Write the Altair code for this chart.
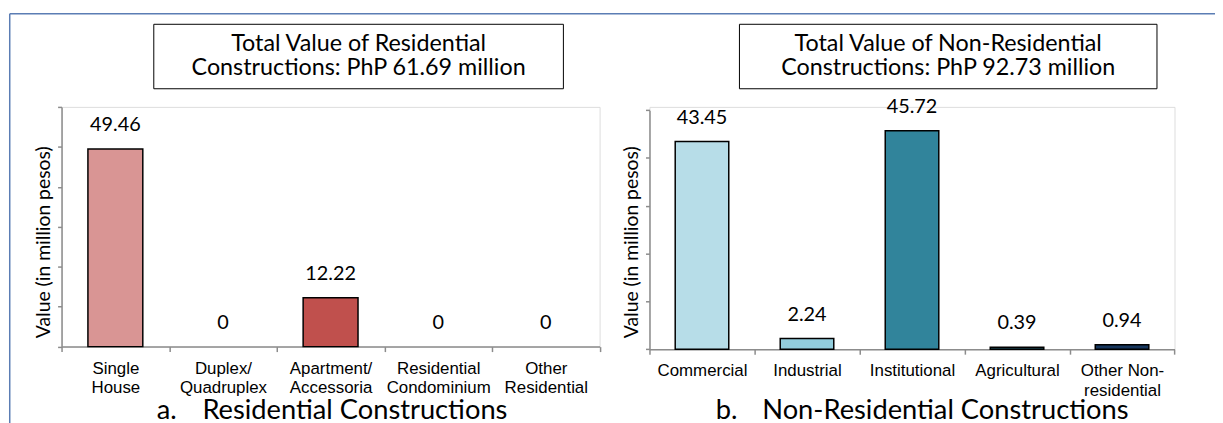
import altair as alt
import pandas as pd

# ---------------- data ----------------
res_categories = ["Single House", "Duplex/ Quadruplex", "Apartment/ Accessoria",
                  "Residential Condominium", "Other Residential"]
res_tick_labels = [["Single", "House"], ["Duplex/", "Quadruplex"], ["Apartment/", "Accessoria"],
                   ["Residential", "Condominium"], ["Other", "Residential"]]
res_values = [49.46, 0, 12.22, 0, 0]
res_colors = ["#D99594", "#D99594", "#C0504D", "#C0504D", "#C0504D"]
res_total = "61.69"

non_categories = ["Commercial", "Industrial", "Institutional", "Agricultural", "Other Non-residential"]
non_tick_labels = [["Commercial"], ["Industrial"], ["Institutional"], ["Agricultural"],
                   ["Other Non-", "residential"]]
non_values = [43.45, 2.24, 45.72, 0.39, 0.94]
non_colors = ["#B7DDE8", "#92CDDC", "#31849B", "#215968", "#17375E"]
non_total = "92.73"

y_title = "Value (in million pesos)"
res_box = ["Total Value of Residential", "Constructions: PhP " + res_total + " million"]
non_box = ["Total Value of Non-Residential", "Constructions: PhP " + non_total + " million"]
res_sub = ("a.", "Residential Constructions")
non_sub = ("b.", "Non-Residential Constructions")

# ---------------- style ----------------
SANS = "Lato"
ARIAL = "Liberation Sans"
AXIS_GRAY = "#8c8c8c"
BORDER = "#5B7DB4"


def label_expr(cats, labels):
    expr = "datum.label"
    for c, l in reversed(list(zip(cats, labels))):
        arr = "[" + ",".join("'" + s + "'" for s in l) + "]"
        expr = "datum.label == '" + c + "' ? " + arr + " : (" + expr + ")"
    return expr


def panel(cats, labels, values, colors, width, height, ymax, yrange, box, box_x, sub_x, sub):
    df = pd.DataFrame({"category": cats, "value": values})
    one = pd.DataFrame({"k": [0]})

    if yrange is not None:
        yscale = alt.Scale(domain=[0, ymax], nice=False, zero=True, range=yrange)
    else:
        yscale = alt.Scale(domain=[0, ymax], nice=False, zero=True)

    x = alt.X("category:N", sort=cats,
              scale=alt.Scale(paddingInner=0, paddingOuter=0),
              axis=alt.Axis(title=None, labelExpr=label_expr(cats, labels), labelAngle=0,
                            labelFont=ARIAL, labelFontSize=17, labelColor="black",
                            labelLineHeight=19.5, labelPadding=9, labelOverlap=False,
                            tickSize=5, tickBand="extent", tickColor=AXIS_GRAY, tickWidth=1.5,
                            domainColor=AXIS_GRAY, domainWidth=1.5))
    y = alt.Y("value:Q", scale=yscale,
              axis=alt.Axis(values=list(range(0, ymax + 1, 10)), labels=False, grid=False,
                            tickSize=4, tickColor=AXIS_GRAY, tickWidth=1.5,
                            domainColor=AXIS_GRAY, domainWidth=1.5,
                            title=y_title, titleFont=SANS, titleFontSize=19.5,
                            titleFontWeight="normal", titleColor="black",
                            titleAngle=270, titleX=-12, titleY=136,
                            titleBaseline="alphabetic", titleAlign="center"))

    base = alt.Chart(df)
    bars = base.mark_bar(width=alt.RelativeBandSize(0.51), stroke="black", strokeWidth=1.5).encode(
        x=x, y=y,
        color=alt.Color("category:N", scale=alt.Scale(domain=cats, range=colors), legend=None),
        strokeOpacity=alt.condition("datum.value > 0", alt.value(1), alt.value(0)),
    )
    vals = base.mark_text(dy=-18, baseline="alphabetic", font=SANS, fontSize=20, color="black").encode(
        x=x, y=y, text=alt.Text("value:Q", format="~g"))

    bx1, bx2 = box_x
    boxrect = alt.Chart(one).mark_rect(fill="white", stroke="black", strokeWidth=1).encode(
        x=alt.value(bx1), x2=alt.value(bx2), y=alt.value(-83.3), y2=alt.value(-18.3))
    boxtext = alt.Chart(one).mark_text(font=SANS, fontSize=23.5, lineHeight=25, align="center",
                                       baseline="alphabetic", color="black").encode(
        x=alt.value((bx1 + bx2) / 2), y=alt.value(-56.7), text=alt.value(box))
    s1 = alt.Chart(one).mark_text(font=SANS, fontSize=27.5, align="left", baseline="alphabetic",
                                  color="black").encode(
        x=alt.value(sub_x[0]), y=alt.value(314.5), text=alt.value(sub[0]))
    s2 = alt.Chart(one).mark_text(font=SANS, fontSize=27.5, align="left", baseline="alphabetic",
                                  color="black").encode(
        x=alt.value(sub_x[1]), y=alt.value(314.5), text=alt.value(sub[1]))
    return [bars, vals, boxrect, boxtext, s1, s2], width, height


one = pd.DataFrame({"k": [0]})
top_line = alt.Chart(one).mark_rule(color=BORDER, strokeWidth=1.5).encode(
    x=alt.value(-52.25), x2=alt.value(1179), y=alt.value(-94))
left_line = alt.Chart(one).mark_rule(color=BORDER, strokeWidth=1.5).encode(
    x=alt.value(-52.25), y=alt.value(-94), y2=alt.value(335))

# left plot origin at page x 61, right plot origin at page x 653.3
lay_a, wa, ha = panel(res_categories, res_tick_labels, res_values, res_colors, 542.5, 241.7, 60, None,
                      res_box, (154 - 61, 567 - 61), (96, 142), res_sub)
lay_b, wb, hb = panel(non_categories, non_tick_labels, non_values, non_colors, 529.4, 244.3, 50,
                      [244.3, 3.3], non_box, (744 - 653.3, 1165 - 653.3), (66.7, 113.7), non_sub)

left = alt.layer(top_line, left_line, *lay_a).properties(width=wa, height=ha)
right = alt.layer(*lay_b).properties(width=wb, height=hb)

chart = alt.hconcat(left, right, spacing=49.8, bounds="flush",
                    padding={"left": 0, "top": 2, "right": -18, "bottom": -18}).resolve_scale(
    color="independent").configure_view(stroke=None).configure(background="white")

chart.save("out.html", embed_options={"renderer": "svg", "actions": False})
